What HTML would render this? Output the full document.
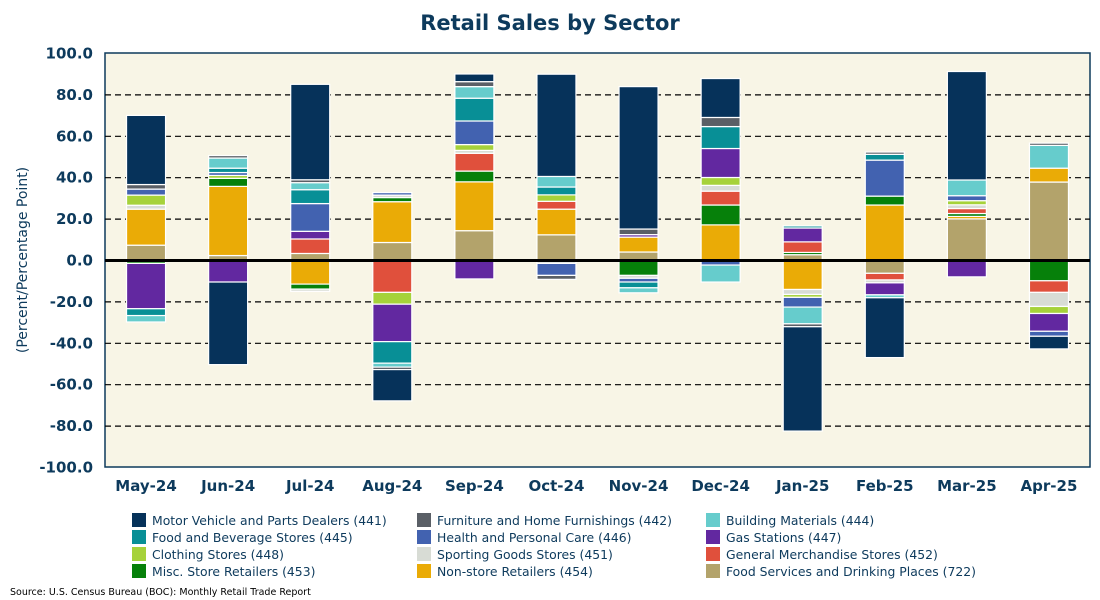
<!DOCTYPE html>
<html><head><meta charset="utf-8"><style>
body{margin:0;background:#fff;font-family:"DejaVu Sans","Liberation Sans",sans-serif;}
svg{display:block}
</style></head><body>
<svg id="chart" width="1100" height="600" xmlns="http://www.w3.org/2000/svg">
<text x="550" y="30" text-anchor="middle" font-size="21" font-weight="bold" fill="#0d3a5c">Retail Sales by Sector</text>
<rect x="105" y="53" width="985" height="414" fill="#f8f5e6" stroke="#0d3a5c" stroke-width="1.5"/>
<g id="grid"></g><g id="bars"></g><g id="axes"></g><g id="legend"></g>
<text transform="translate(27,260) rotate(-90)" text-anchor="middle" font-size="14" fill="#0d3a5c">(Percent/Percentage Point)</text>
<text x="10" y="595" font-size="9.5" fill="#000">Source: U.S. Census Bureau (BOC): Monthly Retail Trade Report</text>
</svg>
<script>
const months=["May-24","Jun-24","Jul-24","Aug-24","Sep-24","Oct-24","Nov-24","Dec-24","Jan-25","Feb-25","Mar-25","Apr-25"];
const yTicks=[100,80,60,40,20,0,-20,-40,-60,-80,-100];
const motor=[33.4,-39.9,46.1,-15.1,3.7,49.4,68.8,18.8,-50.4,-28.9,52.4,-6.1];
const furniture=[2.2,1.2,1.4,-1.2,2.4,-1.9,2.7,4.4,-1.4,1.1,0,1.1];
const building=[-3.1,4.9,3.4,-1.9,5.6,5.1,-2.4,-8.2,-8.1,-1.4,7.6,11];
const foodbev=[-3.3,2.1,6.7,-10.4,11,3.8,-2.8,10.6,1,2.8,0,0];
const health=[2.9,1.4,13.4,1.2,11.4,-5.8,-1.8,-2.2,-4.7,17.4,2.4,-2.4];
const gas=[-21.9,-10.4,3.7,-18.1,-8.9,0,1.2,14,6.7,-5.8,-7.9,-8.6];
const clothing=[4.9,1.4,0,-5.7,2.8,3.1,0,3.8,-1.4,0,2,-3.4];
const sporting=[1.9,0,-1.1,1.2,1.4,-1.4,-1.4,2.8,-2.4,-1.4,1.8,-6.8];
const general=[0,0,7,-15.4,8.6,3.8,0,6.7,5.1,-3.2,2.4,-5.6];
const misc=[-1.4,3.9,-2.4,2,5.2,0,-7.2,9.6,1.1,4.3,1.4,-9.8];
const nonstore=[17.4,33.4,-11.4,19.7,23.6,12.4,7.2,17.2,-14,26.8,1.2,6.7];
const foodsvc=[7.4,2.4,3.4,8.7,14.4,12.4,4.1,0,2.8,-6.2,20.1,37.9];

const NS="http://www.w3.org/2000/svg";
const X0=105,W=985,band=W/months.length;
function x(i){return X0+band*i+band/2;}
function y(v){return 260.5-v*2.07;}
function mk(t,a,p){const e=document.createElementNS(NS,t);for(const k in a)e.setAttribute(k,a[k]);p.appendChild(e);return e;}
const series=[
 {n:"Motor Vehicle and Parts Dealers (441)",c:"#06325a",d:motor,k:"motor"},
 {n:"Furniture and Home Furnishings (442)",c:"#5a5f66",d:furniture,k:"furniture"},
 {n:"Building Materials (444)",c:"#66cccc",d:building,k:"building"},
 {n:"Food and Beverage Stores (445)",c:"#088f96",d:foodbev,k:"foodbev"},
 {n:"Health and Personal Care (446)",c:"#4262b0",d:health,k:"health"},
 {n:"Gas Stations (447)",c:"#6228a0",d:gas,k:"gas"},
 {n:"Clothing Stores (448)",c:"#a6d23a",d:clothing,k:"clothing"},
 {n:"Sporting Goods Stores (451)",c:"#d8dcd5",d:sporting,k:"sporting"},
 {n:"General Merchandise Stores (452)",c:"#e0503c",d:general,k:"general"},
 {n:"Misc. Store Retailers (453)",c:"#06800a",d:misc,k:"misc"},
 {n:"Non-store Retailers (454)",c:"#eaab06",d:nonstore,k:"nonstore"},
 {n:"Food Services and Drinking Places (722)",c:"#b3a36b",d:foodsvc,k:"foodsvc"}];
const grid=document.getElementById('grid'),bars=document.getElementById('bars'),axes=document.getElementById('axes'),leg=document.getElementById('legend');
yTicks.forEach(t=>{
 if(t!==0&&t!==100&&t!==-100){const l=mk('line',{x1:X0,x2:X0+W,y1:y(t),y2:y(t),stroke:'#000','stroke-width':1.2,'stroke-dasharray':'6,4'},grid);
 
 }
 const tx=mk('text',{x:93,y:y(t)+5,'text-anchor':'end','font-size':15,'font-weight':'bold',fill:'#0d3a5c'},axes);tx.textContent=t.toFixed(1);
 
 
});
const bw=39;
months.forEach((m,i)=>{
 let pos=0,neg=0;
 for(let s=series.length-1;s>=0;s--){
  const v=series[s].d[i];if(!v)continue;
  let y1,y2;
  if(v>0){y1=pos;y2=pos+v;pos=y2;}else{y1=neg;y2=neg+v;neg=y2;}
  const r=mk('rect',{x:x(i)-bw/2,y:Math.min(y(y1),y(y2)),width:bw,height:Math.abs(y(y1)-y(y2)),fill:series[s].c,stroke:'#fff','stroke-width':1.2},bars);
  
  
 }
 const tx=mk('text',{x:x(i),y:491,'text-anchor':'middle','font-size':15,'font-weight':'bold',fill:'#0d3a5c'},axes);tx.textContent=m;
 
 
});
const zl=mk('line',{x1:X0,x2:X0+W,y1:y(0),y2:y(0),stroke:'#000','stroke-width':3},axes);


const cols=[132,417,706];
series.forEach((s,j)=>{
 const cx=cols[j%3],cy=513+Math.floor(j/3)*17;
 const g=mk('g',{},leg);
 
 
 mk('rect',{x:cx,y:cy,width:14,height:14,fill:s.c},g);
 const t=mk('text',{x:cx+20,y:cy+12,'font-size':12.4,fill:'#0d3a5c'},g);t.textContent=s.n;
});
</script>
</body></html>
